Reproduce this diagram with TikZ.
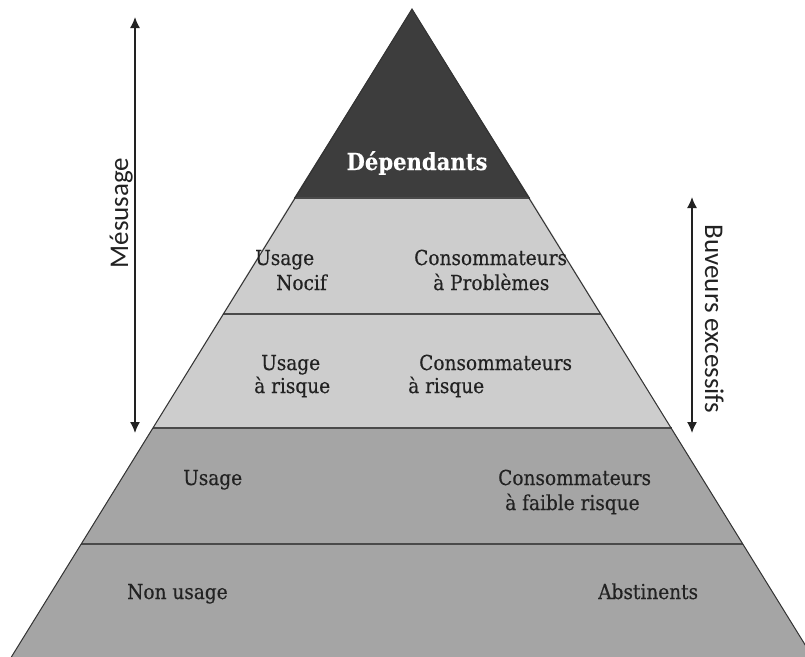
\documentclass[tikz,border=0pt]{standalone}
\usepackage{fontspec}
\setmainfont{DejaVu Serif Condensed}[FakeBold=0.35]
\newfontfamily\labelsans{Carlito}
\usetikzlibrary{arrows.meta}
\definecolor{topband}{HTML}{3D3D3D}
\definecolor{lightband}{HTML}{CDCDCD}
\definecolor{midband}{HTML}{A5A5A5}
\definecolor{sepline}{HTML}{4A4A4A}
\definecolor{edgeline}{HTML}{333333}
\definecolor{inktext}{HTML}{222222}
\tikzset{
  bandtxt/.style={inner sep=0pt, anchor=base west, font=\fontsize{20.6}{24}\selectfont, text=inktext},
  toptxt/.style={inner sep=0pt, anchor=base, font=\bfseries\fontsize{23.5}{28}\selectfont, text=white},
  sidetxt/.style={inner sep=0pt, anchor=base, font=\labelsans\fontsize{27}{32}\selectfont, text=inktext},
  rangearrow/.style={line width=1.5pt, inktext, {Latex[length=11pt,width=10pt]}-{Latex[length=11pt,width=10pt]}},
  seprule/.style={line width=2pt, sepline},
}
\begin{document}
\begin{tikzpicture}[x=1pt,y=1pt]
\useasboundingbox (0,0) rectangle (805,-656);
\clip (0,0) rectangle (805,-656);
\fill[white] (0,0) rectangle (805,-656);
% pyramid corner coordinates
\coordinate (apex) at (412,-9);
\coordinate (l1) at (294,-198);   \coordinate (r1) at (530,-198);
\coordinate (l2) at (222.6,-314); \coordinate (r2) at (601.4,-314);
\coordinate (l3) at (152.5,-428); \coordinate (r3) at (671.5,-428);
\coordinate (l4) at (81,-544);    \coordinate (r4) at (743,-544);
\coordinate (l5) at (9.5,-660);   \coordinate (r5) at (814.5,-660);
% bands
\fill[topband] (apex) -- (r1) -- (l1) -- cycle;
\fill[lightband] (l1) -- (r1) -- (r2) -- (l2) -- cycle;
\fill[lightband] (l2) -- (r2) -- (r3) -- (l3) -- cycle;
\fill[midband] (l3) -- (r3) -- (r4) -- (l4) -- cycle;
\fill[midband] (l4) -- (r4) -- (r5) -- (l5) -- cycle;
\draw[seprule] (l1) -- (r1);
\draw[seprule] (l2) -- (r2);
\draw[seprule] (l3) -- (r3);
\draw[seprule] (l4) -- (r4);
\draw[line width=1pt, edgeline, line join=miter] (l5) -- (apex) -- (r5);
% texts
\node[toptxt] (dep) at (417,-170) {Dépendants};
\node[bandtxt] (u2a) at (255,-265) {Usage};
\node[bandtxt] (u2b) at (276,-290) {Nocif};
\node[bandtxt] (c2a) at (414,-265) {Consommateurs};
\node[bandtxt] (c2b) at (433,-290) {à Problèmes};
\node[bandtxt] (u3a) at (261,-370) {Usage};
\node[bandtxt] (u3b) at (254,-393) {à risque};
\node[bandtxt] (c3a) at (419,-370) {Consommateurs};
\node[bandtxt] (c3b) at (408,-393) {à risque};
\node[bandtxt] (u4a) at (183,-485) {Usage};
\node[bandtxt] (c4a) at (498,-485) {Consommateurs};
\node[bandtxt] (c4b) at (505,-510) {à faible risque};
\node[bandtxt] (u5a) at (127,-599) {Non usage};
\node[bandtxt] (c5a) at (598,-599) {Abstinents};
% side ranges
\coordinate (mtop) at (135,-17);
\coordinate (mbot) at (135,-433);
\draw[rangearrow] (mtop) -- (mbot);
\node[sidetxt, rotate=90] (mes) at (128,-213) {Mésusage};
\coordinate (btop) at (692,-197);
\coordinate (bbot) at (692,-433);
\draw[rangearrow] (btop) -- (bbot);
\node[sidetxt, rotate=-90] (buv) at (705,-319) {Buveurs excessifs};
\end{tikzpicture}
\end{document}
